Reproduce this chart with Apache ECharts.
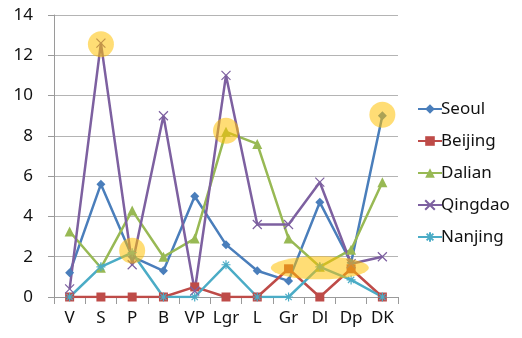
<!DOCTYPE html>
<html><head><meta charset="utf-8">
<script src="https://cdn.jsdelivr.net/npm/echarts@6/dist/echarts.min.js"></script>
<style>html,body{margin:0;padding:0;background:#fff}#c{width:522px;height:338px}</style>
</head><body><div id="c"></div>
<script>
const categories = ["V","S","P","B","VP","Lgr","L","Gr","Dl","Dp","DK"];
const seoul   = [1.2, 5.6, 2.0, 1.3, 5.0, 2.6, 1.3, 0.8, 4.7, 1.7, 9.0];
const beijing = [0, 0, 0, 0, 0.5, 0, 0, 1.4, 0, 1.4, 0];
const dalian  = [3.25, 1.45, 4.3, 2.0, 2.9, 8.2, 7.6, 2.9, 1.5, 2.35, 5.7];
const qingdao = [0.4, 12.6, 1.6, 9.0, 0.3, 11.0, 3.6, 3.6, 5.7, 1.65, 2.0];
const nanjing = [0, 1.5, 2.2, 0, 0, 1.6, 0, 0, 1.5, 0.85, 0];
const yTicks = [0, 2, 4, 6, 8, 10, 12, 14];
// highlight marks: [category, value]
const circles = [["S", 12.55], ["P", 2.3], ["Lgr", 8.25], ["DK", 9.05]];
const ellipse = [["Dl", 1.45]];

const X = 'path://M0,0L10,10M10,0L0,10';
const STAR = 'path://M5,0L5,10M0,5L10,5M1.5,1.5L8.5,8.5M8.5,1.5L1.5,8.5';
function ser(name, data, color, symbol, size, stroke) {
  return {
    name, type: 'line', data, symbol, symbolSize: size, z: 3,
    lineStyle: { color, width: 2.5 },
    itemStyle: stroke ? { color: 'transparent', borderColor: color, borderWidth: 1.2 } : { color, borderWidth: 0 },
    emphasis: { disabled: true }
  };
}
const chart = echarts.init(document.getElementById('c'));
chart.setOption({
  animation: false,
  grid: { left: 54, right: 124, top: 15, bottom: 41 },
  xAxis: {
    type: 'category', data: categories, boundaryGap: true,
    axisLine: { lineStyle: { color: '#9a9a9a', width: 1 } },
    axisTick: { show: true, length: 7, interval: 0, lineStyle: { color: '#9a9a9a' } },
    axisLabel: { color: '#111', fontSize: 17, fontFamily: 'Noto Sans', margin: 13, interval: 0 }
  },
  yAxis: {
    type: 'value', min: 0, max: 14, interval: 2,
    axisLine: { show: true, lineStyle: { color: '#9a9a9a' } },
    axisTick: { show: true, length: 6, lineStyle: { color: '#9a9a9a' } },
    splitLine: { lineStyle: { color: '#b4b4b4', width: 1 } },
    axisLabel: { color: '#111', fontSize: 17, fontFamily: 'Noto Sans', margin: 21,
      formatter: v => yTicks.includes(v) ? String(v) : '' }
  },
  legend: {
    orient: 'vertical', left: 412, top: 94, itemGap: 12,
    itemWidth: 24, itemHeight: 12,
    textStyle: { color: '#111', fontSize: 17, fontFamily: 'Noto Sans', lineHeight: 20, padding: [0,0,0,-6] },
    data: ['Seoul','Beijing','Dalian','Qingdao','Nanjing']
  },
  series: [
    ser('Seoul', seoul, '#4A7EBB', 'diamond', 9),
    ser('Beijing', beijing, '#BE4B48', 'rect', 9),
    ser('Dalian', dalian, '#98B954', 'triangle', 10),
    ser('Qingdao', qingdao, '#7D60A0', X, 9, true),
    ser('Nanjing', nanjing, '#4BACC6', STAR, 9, true),
    { type: 'scatter', data: circles, symbol: 'circle', symbolSize: 26, z: 5, silent: true,
      itemStyle: { color: 'rgba(255,192,0,0.68)' } },
    { type: 'scatter', data: ellipse, symbol: 'circle', symbolSize: [98, 23], z: 5, silent: true,
      itemStyle: { color: 'rgba(255,192,0,0.68)' } }
  ]
});
</script></body></html>
